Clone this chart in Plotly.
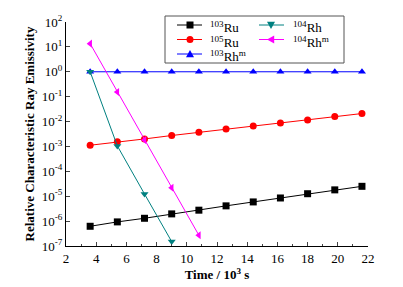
import plotly.graph_objects as go

time = [3.6, 5.4, 7.2, 9.0, 10.8, 12.6, 14.4, 16.2, 18.0, 19.8, 21.6]
ru103 = [6.2e-7, 9.3e-7, 1.3e-6, 1.95e-6, 2.75e-6, 4.1e-6, 5.9e-6, 8.5e-6, 1.26e-5, 1.8e-5, 2.5e-5]
ru105 = [1.12e-3, 1.55e-3, 2.0e-3, 2.75e-3, 3.7e-3, 5.0e-3, 6.6e-3, 8.7e-3, 1.15e-2, 1.58e-2, 2.1e-2]
rh103m = [1.0] * 11
time_rh104 = [3.6, 5.4, 7.2, 9.0]
rh104 = [1.0, 1.05e-3, 1.23e-5, 1.5e-7]
time_rh104m = [3.6, 5.4, 7.2, 9.0, 10.8]
rh104m = [13.5, 0.155, 1.8e-3, 2.2e-5, 2.7e-7]

ytickvals = [10.0 ** k for k in range(-7, 3)]
yticktext = ["10<sup>%d</sup>" % k for k in range(-7, 3)]
xtickvals = list(range(2, 23, 2))

FONT = "Liberation Serif"
W, H = 403, 287
ML, MR, MT, MB = 66, 35, 22, 41
PW, PH = W - ML - MR, H - MT - MB

# name, x, y, colour, symbol, legend column, legend row
series = [
    ("<sup>103</sup>Ru", time, ru103, "#000000", "square", 0, 0),
    ("<sup>105</sup>Ru", time, ru105, "#FF0000", "circle", 0, 1),
    ("<sup>103</sup>Rh<sup>m</sup>", time, rh103m, "#0000FF", "triangle-up", 0, 2),
    ("<sup>104</sup>Rh", time_rh104, rh104, "#008080", "triangle-down", 1, 0),
    ("<sup>104</sup>Rh<sup>m</sup>", time_rh104m, rh104m, "#FF00FF", "triangle-left", 1, 1),
]

fig = go.Figure()
for name, x, y, c, sym, col, row in series:
    fig.add_trace(go.Scatter(
        x=x, y=y, name=name, mode="lines+markers", showlegend=False,
        line=dict(color=c, width=1),
        marker=dict(color=c, symbol=sym, size=7),
    ))


# ---- legend box drawn in paper space (pixel -> paper helpers) ----
def px(v):
    return (v - ML) / PW


def py(v):
    return 1 - (v - MT) / PH


def marker_path(sym, cx, cy, r):
    if sym == "triangle-up":
        pts = [(cx - r, cy + r * 0.8), (cx + r, cy + r * 0.8), (cx, cy - r)]
    elif sym == "triangle-down":
        pts = [(cx - r, cy - r * 0.8), (cx + r, cy - r * 0.8), (cx, cy + r)]
    else:  # triangle-left
        pts = [(cx + r * 0.8, cy - r), (cx + r * 0.8, cy + r), (cx - r, cy)]
    return "M " + " L ".join("%.4f,%.4f" % (px(a), py(b)) for a, b in pts) + " Z"


leg_box = dict(x0=165, x1=344, y0=16, y1=63)
col_line = [(177, 202), (259, 284)]
col_mark = [190, 271]
col_text = [208, 291]
row_y = [25, 39.5, 54]

shapes = [dict(type="rect", xref="paper", yref="paper",
               x0=px(leg_box["x0"]), x1=px(leg_box["x1"]),
               y0=py(leg_box["y1"]), y1=py(leg_box["y0"]),
               line=dict(color="#555555", width=1), fillcolor="rgba(0,0,0,0)")]
annotations = []
for name, x, y, c, sym, col, row in series:
    ly = row_y[row]
    shapes.append(dict(type="line", xref="paper", yref="paper",
                       x0=px(col_line[col][0]), x1=px(col_line[col][1]),
                       y0=py(ly), y1=py(ly), line=dict(color=c, width=1)))
    cx, r = col_mark[col], 3.5
    if sym == "square":
        shapes.append(dict(type="rect", xref="paper", yref="paper",
                           x0=px(cx - r), x1=px(cx + r), y0=py(ly + r), y1=py(ly - r),
                           fillcolor=c, line=dict(width=0)))
    elif sym == "circle":
        shapes.append(dict(type="circle", xref="paper", yref="paper",
                           x0=px(cx - r), x1=px(cx + r), y0=py(ly + r), y1=py(ly - r),
                           fillcolor=c, line=dict(width=0)))
    else:
        shapes.append(dict(type="path", xref="paper", yref="paper",
                           path=marker_path(sym, cx, ly, 4), fillcolor=c, line=dict(width=0)))
    annotations.append(dict(text=name, xref="paper", yref="paper",
                            x=px(col_text[col]), y=py(ly), xanchor="left", yanchor="middle",
                            showarrow=False, font=dict(family=FONT, size=13, color="black"),
                            yshift=-2))

fig.update_layout(
    width=W, height=H,
    margin=dict(l=ML, r=MR, t=MT, b=MB),
    paper_bgcolor="white", plot_bgcolor="white",
    font=dict(family=FONT, size=13, color="black"),
    showlegend=False,
    shapes=shapes,
    annotations=annotations,
    xaxis=dict(
        range=[2, 22], tickvals=xtickvals, ticks="inside", ticklen=4, automargin=False,
        showline=True, linecolor="black", linewidth=1, showgrid=False, zeroline=False,
        minor=dict(ticks="inside", ticklen=2, dtick=1, showgrid=False),
        title=dict(text="<b>Time / 10<sup>3</sup> s</b>", font=dict(size=13), standoff=2),
        tickfont=dict(size=13),
    ),
    yaxis=dict(
        type="log", range=[-7, 2], tickvals=ytickvals, ticktext=yticktext,
        ticks="inside", ticklen=4, automargin=False,
        showline=True, linecolor="black", linewidth=1, showgrid=False, zeroline=False,
        title=dict(text="<b>Relative Characteristic Ray Emissivity</b>", font=dict(size=13), standoff=4),
        tickfont=dict(size=13),
    ),
)

fig.write_html("out.html", config={"displayModeBar": False},
               post_script="document.body.style.margin='0';document.body.style.padding='0';")
